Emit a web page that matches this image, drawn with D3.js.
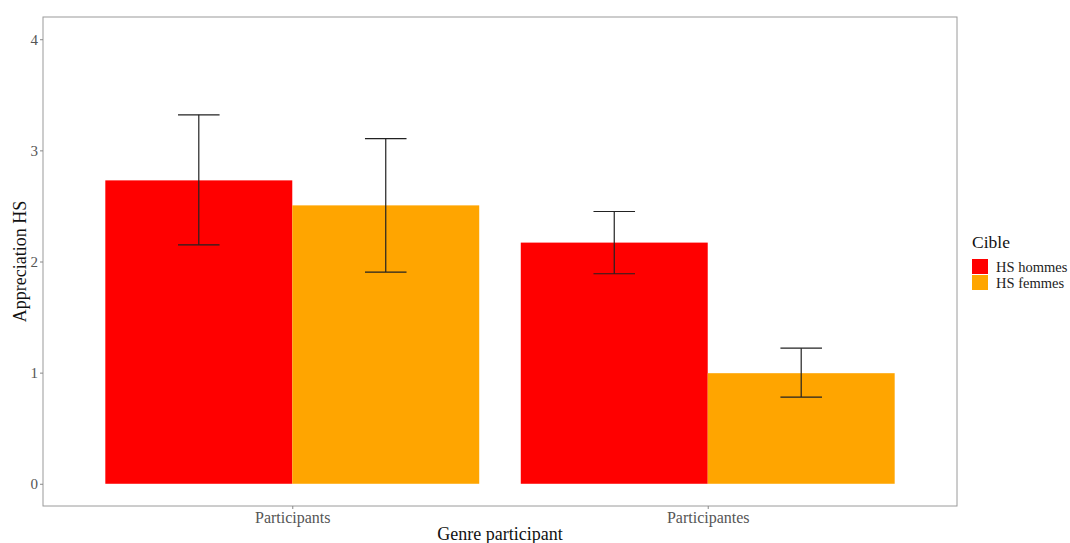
<!DOCTYPE html>
<html>
<head>
<meta charset="utf-8">
<script src="https://cdn.jsdelivr.net/npm/d3@7"></script>
<style>
  body { margin: 0; background: #fff; }
  text { font-family: "Liberation Serif", "Times New Roman", serif; }
</style>
</head>
<body>
<div id="chart"></div>
<script>
// data
const groups = ["Participants", "Participantes"];
const cibles = ["HS hommes", "HS femmes"];
const colours = ["#ff0000", "#ffa500"];
const hommesMean = [2.73, 2.17];
const hommesLow = [2.15, 1.89];
const hommesHigh = [3.32, 2.45];
const femmesMean = [2.505, 0.995];
const femmesLow = [1.905, 0.78];
const femmesHigh = [3.105, 1.22];
const yTicks = [0, 1, 2, 3, 4];

const width = 1070, height = 543;
const panel = { left: 43, right: 957, top: 17, bottom: 506 };

const rows = [];
groups.forEach((g, i) => {
  rows.push({ group: g, cible: cibles[0], mean: hommesMean[i], lo: hommesLow[i], hi: hommesHigh[i] });
  rows.push({ group: g, cible: cibles[1], mean: femmesMean[i], lo: femmesLow[i], hi: femmesHigh[i] });
});

const svg = d3.select("#chart").append("svg")
  .attr("width", width)
  .attr("height", height);

// ggplot style discrete scale: positions 1..n with 0.6 expansion
const xPos = d3.scaleLinear()
  .domain([1 - 0.6, groups.length + 0.6])
  .range([panel.left, panel.right]);

const y = d3.scaleLinear()
  .domain([-0.2, 4.2])
  .range([panel.bottom, panel.top]);

const dodge = d3.scaleBand()
  .domain(cibles)
  .range([-0.45, 0.45]);

const colour = d3.scaleOrdinal().domain(cibles).range(colours);

// bars
svg.append("g")
  .selectAll("rect")
  .data(rows).enter()
  .append("rect")
  .attr("x", d => xPos(groups.indexOf(d.group) + 1 + dodge(d.cible)))
  .attr("width", d => xPos(dodge.bandwidth()) - xPos(0))
  .attr("y", d => y(d.mean))
  .attr("height", d => y(0) - y(d.mean))
  .attr("fill", d => colour(d.cible));

// error bars
const capHalf = 0.05;
const err = svg.append("g")
  .attr("stroke", "#222")
  .attr("stroke-width", 1.2)
  .attr("fill", "none");

rows.forEach(d => {
  const c = groups.indexOf(d.group) + 1 + dodge(d.cible) + dodge.bandwidth() / 2;
  err.append("line")
    .attr("x1", xPos(c)).attr("x2", xPos(c))
    .attr("y1", y(d.lo)).attr("y2", y(d.hi));
  err.append("line")
    .attr("x1", xPos(c - capHalf)).attr("x2", xPos(c + capHalf))
    .attr("y1", y(d.hi)).attr("y2", y(d.hi));
  err.append("line")
    .attr("x1", xPos(c - capHalf)).attr("x2", xPos(c + capHalf))
    .attr("y1", y(d.lo)).attr("y2", y(d.lo));
});

// panel border
svg.append("rect")
  .attr("x", panel.left)
  .attr("y", panel.top)
  .attr("width", panel.right - panel.left)
  .attr("height", panel.bottom - panel.top)
  .attr("fill", "none")
  .attr("stroke", "#9a9a9a")
  .attr("stroke-width", 1);

// Y axis
const yAxis = svg.append("g")
  .attr("transform", "translate(" + panel.left + ",0)")
  .call(d3.axisLeft(y).tickValues(yTicks).tickSize(3).tickPadding(2).tickFormat(d3.format("d")));
yAxis.select(".domain").remove();
yAxis.selectAll(".tick line").attr("stroke", "#888");
yAxis.selectAll(".tick text").attr("fill", "#555").style("font-size", "15px")
  .style("font-family", "Liberation Serif, serif");

// X axis
const xAxis = svg.append("g")
  .attr("transform", "translate(0," + panel.bottom + ")")
  .call(d3.axisBottom(xPos).tickValues(groups.map((g, i) => i + 1)).tickSize(3).tickPadding(3)
    .tickFormat(d => groups[d - 1]));
xAxis.select(".domain").remove();
xAxis.selectAll(".tick line").attr("stroke", "#888");
xAxis.selectAll(".tick text").attr("fill", "#555").style("font-size", "16px")
  .style("font-family", "Liberation Serif, serif");

// axis titles
svg.append("text")
  .attr("x", (panel.left + panel.right) / 2)
  .attr("y", 540)
  .attr("text-anchor", "middle")
  .style("font-size", "18px")
  .attr("fill", "#111")
  .text("Genre participant");

svg.append("text")
  .attr("transform", "translate(26," + ((panel.top + panel.bottom) / 2) + ") rotate(-90)")
  .attr("text-anchor", "middle")
  .style("font-size", "18px")
  .attr("fill", "#111")
  .text("Appreciation HS");

// legend
const legend = svg.append("g").attr("transform", "translate(972,0)");
legend.append("text")
  .attr("x", 0).attr("y", 248)
  .style("font-size", "17.5px")
  .attr("fill", "#111")
  .text("Cible");

cibles.forEach((c, i) => {
  legend.append("rect")
    .attr("x", 0).attr("y", 259 + i * 16)
    .attr("width", 16).attr("height", 15)
    .attr("fill", colour(c));
  legend.append("text")
    .attr("x", 24).attr("y", 272 + i * 16)
    .style("font-size", "14.5px")
    .attr("fill", "#222")
    .text(c);
});
</script>
</body>
</html>
